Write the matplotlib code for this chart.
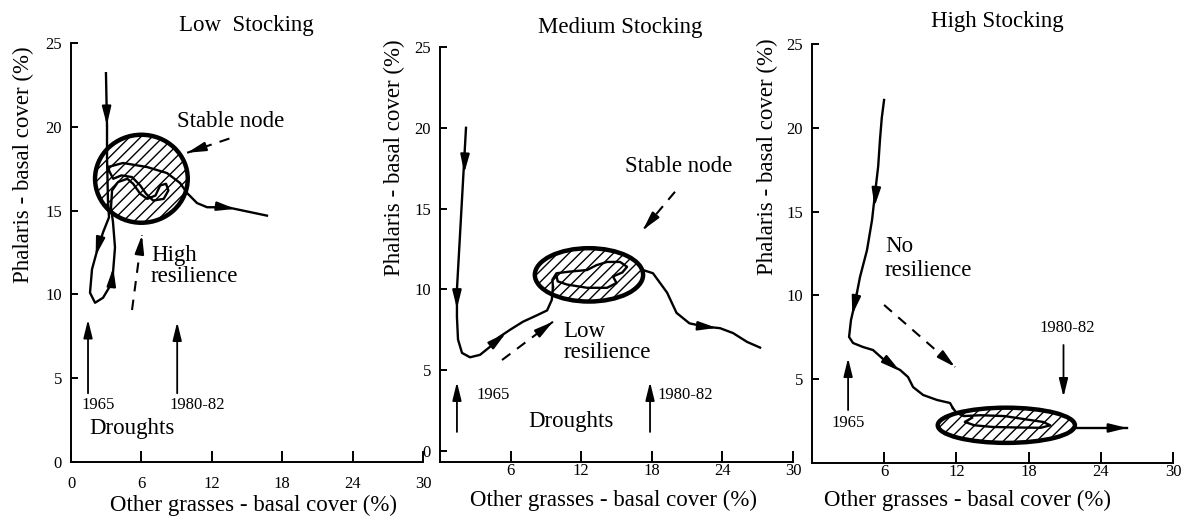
import matplotlib
matplotlib.use("Agg")
import matplotlib.pyplot as plt
from matplotlib.patches import Ellipse

plt.rcParams['font.family'] = ['Liberation Serif', 'DejaVu Serif']
plt.rcParams['hatch.linewidth'] = 1.0

# ---------------- data ----------------
titles = ["Low  Stocking", "Medium Stocking", "High Stocking"]
xlabel = "Other grasses - basal cover (%)"
ylabel = "Phalaris - basal cover (%)"
xticks_low = [0, 6, 12, 18, 24, 30]
xticks_other = [6, 12, 18, 24, 30]
yticks_low = [0, 5, 10, 15, 20, 25]
yticks_med = [0, 5, 10, 15, 20, 25]
yticks_high = [5, 10, 15, 20, 25]

# Low stocking trajectory
low_x = [2.98, 3.07, 3.07, 3.15, 3.24, 2.73, 2.22, 1.79, 1.62, 2.05, 2.73, 3.50,
         3.58, 3.75, 3.58, 3.41, 3.5, 4.0, 4.8, 5.3, 5.9, 6.5, 7.2, 7.6, 8.1, 8.3,
         7.9, 7.0, 6.4, 5.9, 5.2, 4.3, 3.6, 3.3, 3.15, 4.43, 6.48, 8.18, 9.29, 9.89,
         10.74, 11.6, 13.3, 16.7]
low_y = [23.2, 20.0, 18.2, 15.6, 14.6, 13.7, 12.6, 11.5, 10.1, 9.5, 9.8, 10.7,
         11.3, 12.8, 14.3, 15.2, 16.2, 16.7, 16.9, 16.6, 16.0, 15.7, 15.9, 16.5, 16.6, 16.2,
         15.7, 15.6, 16.0, 16.5, 17.0, 17.1, 16.9, 17.3, 17.6, 17.84, 17.6, 17.24, 16.65, 16.05,
         15.45, 15.2, 15.2, 14.7]
low_node = (6.0, 16.9, 7.9, 5.25)   # centre x, centre y, width, height
low_heads = [((3.04, 21.0), (3.06, 20.1)), ((2.4, 13.1), (2.1, 12.3)),
             ((3.5, 10.9), (3.6, 11.6)), ((13.0, 15.2), (14.0, 15.1))]
low_dashed = [((13.5, 19.3), (9.9, 18.45)), ((5.2, 9.07), (6.05, 13.54))]
low_droughts = [((1.45, 4.1), (1.45, 8.5)), ((9.05, 4.1), (9.05, 8.35))]

# Medium stocking trajectory
med_in_x = [2.21, 1.44, 1.44, 1.53, 1.87, 2.55, 3.4, 4.25, 4.93, 5.95, 7.05, 8.24, 9.1, 9.5, 9.6]
med_in_y = [20.0, 10.0, 8.3, 6.9, 6.07, 5.8, 5.95, 6.45, 7.0, 7.5, 8.0, 8.4, 8.7, 9.35, 10.15]
med_loop_x = [9.6, 9.55, 9.9, 11.0, 12.5, 13.3, 14.2, 15.3, 15.9, 15.5, 14.7, 15.0, 14.2,
              12.5, 10.8, 10.0, 9.9]
med_loop_y = [10.15, 10.6, 11.0, 11.1, 11.2, 11.5, 11.7, 11.7, 11.4, 11.05, 10.8, 10.4, 10.1,
              10.1, 10.3, 10.5, 10.85]
med_out_x = [17.25, 18.1, 19.3, 20.1, 21.2, 22.5, 23.8, 24.9, 26.1, 27.2]
med_out_y = [11.2, 11.0, 9.8, 8.55, 7.9, 7.7, 7.6, 7.3, 6.75, 6.4]
med_node = (12.66, 10.9, 9.2, 3.3)
med_heads = [((2.12, 18.3), (2.06, 17.2)), ((1.44, 10.0), (1.44, 8.8)),
             ((4.6, 6.7), (5.6, 7.3)), ((22.2, 7.72), (23.5, 7.62))]
med_dashed = [((19.97, 16.04), (17.25, 13.68)), ((5.27, 5.63), (9.6, 8.0))]
med_droughts = [((1.44, 1.18), (1.44, 4.27)), ((17.85, 1.18), (17.85, 4.27))]

# High stocking trajectory
high_in_x = [5.99, 5.8, 5.65, 5.5, 5.24, 4.99, 4.57, 3.99, 3.57, 3.24, 3.08, 3.41, 4.24,
             5.07, 5.82, 6.48, 7.32, 7.98, 8.4, 9.23, 10.39, 11.47, 11.7]
high_in_y = [21.66, 20.6, 19.3, 17.7, 16.1, 14.5, 12.7, 11.1, 9.55, 8.53, 7.52, 7.16, 6.92,
             6.74, 6.26, 5.85, 5.55, 5.13, 4.53, 4.06, 3.76, 3.58, 3.28]
high_loop_x = [11.7, 12.0, 12.6, 14.0, 16.0, 17.8, 19.2, 19.8, 19.0, 17.0, 15.0, 13.5, 12.7, 13.3]
high_loop_y = [3.28, 3.0, 2.8, 2.85, 2.8, 2.6, 2.45, 2.25, 2.1, 2.12, 2.15, 2.25, 2.45, 2.7]
high_out_x = [21.7, 26.2]
high_out_y = [2.09, 2.09]
high_node = (16.15, 2.25, 11.4, 2.1)
high_heads = [((5.35, 16.5), (5.2, 15.3)), ((3.75, 10.2), (3.35, 8.85)),
              ((6.2, 6.1), (7.3, 5.5)), ((24.4, 2.09), (26.2, 2.09))]
high_dashed = [((5.99, 9.43), (11.89, 5.73))]
high_droughts = [((3.0, 3.16), (3.0, 6.26)), ((20.9, 7.04), (20.9, 3.94))]

BIG = 16.5
SMALL = 12

# ---------------- helpers ----------------
def px(x, y):
    return x / 1189.0, 1 - y / 519.0

def head(ax, tail, tip, lw=1.5):
    ax.annotate('', xy=tip, xytext=tail,
                arrowprops=dict(arrowstyle='-|>,head_length=1.1,head_width=0.27',
                                mutation_scale=10, color='black', lw=lw,
                                shrinkA=0, shrinkB=0))

def dashed(ax, tail, tip):
    ax.plot([tail[0], tip[0]], [tail[1], tip[1]], color='black', lw=1.5,
            dashes=(5, 4), solid_capstyle='butt')
    fx = tail[0] + (tip[0] - tail[0]) * 0.85
    fy = tail[1] + (tip[1] - tail[1]) * 0.85
    head(ax, (fx, fy), tip)

def node(ax, spec):
    e = Ellipse((spec[0], spec[1]), spec[2], spec[3], facecolor='white',
                edgecolor='black', hatch='///', lw=3.2, zorder=2)
    ax.add_patch(e)

def style(ax, xt, yt, xpad, ylim):
    ax.set_xlim(0, 30)
    ax.set_ylim(*ylim)
    for s in ['top', 'right']:
        ax.spines[s].set_visible(False)
    for s in ['left', 'bottom']:
        ax.spines[s].set_linewidth(1.4)
    ax.set_xticks(xt)
    ax.set_yticks(yt)
    ax.tick_params(axis='x', direction='in', length=8, width=1.4, pad=xpad, labelsize=SMALL)
    ax.tick_params(axis='y', direction='in', length=5, width=1.4, pad=6.5, labelsize=SMALL)
    ax.patch.set_alpha(0)

def line(ax, xs, ys):
    ax.plot(xs, ys, color='black', lw=1.7, zorder=3, solid_joinstyle='round')

# ---------------- figure ----------------
fig = plt.figure(figsize=(11.89, 5.19), dpi=100)
ax1 = fig.add_axes([71 / 1189, 1 - 462 / 519, 352 / 1189, 419 / 519])
ax2 = fig.add_axes([440 / 1189, 1 - 462 / 519, 353 / 1189, 415 / 519])
ax3 = fig.add_axes([812 / 1189, 1 - 463 / 519, 361 / 1189, 419 / 519])

style(ax1, xticks_low, yticks_low, 10, (0, 25))
style(ax2, xticks_other, yticks_med, 1, (-0.68, 25))
style(ax3, xticks_other, yticks_high, 1, (0, 25))

# Low
node(ax1, low_node)
line(ax1, low_x, low_y)
for t, h in low_heads:
    head(ax1, t, h)
for t, h in low_dashed:
    dashed(ax1, t, h)
for t, h in low_droughts:
    head(ax1, t, h, lw=1.3)
ax1.text(9.04, 20.3, "Stable node", fontsize=BIG, va='center', ha='left')
ax1.text(6.82, 11.7, "High\nresilience", fontsize=BIG, va='center', ha='left', linespacing=0.95)
ax1.text(2.3, 3.4, "1965", fontsize=SMALL, va='center', ha='center')
ax1.text(10.8, 3.4, "1980-82", fontsize=SMALL, va='center', ha='center')
ax1.text(1.6, 2.0, "Droughts", fontsize=BIG, va='center', ha='left')

# Medium
node(ax2, med_node)
line(ax2, med_in_x, med_in_y)
line(ax2, med_loop_x, med_loop_y)
line(ax2, med_out_x, med_out_y)
for t, h in med_heads:
    head(ax2, t, h)
for t, h in med_dashed:
    dashed(ax2, t, h)
for t, h in med_droughts:
    head(ax2, t, h, lw=1.3)
ax2.text(20.3, 17.6, "Stable node", fontsize=BIG, va='center', ha='center')
ax2.text(10.5, 6.75, "Low\nresilience", fontsize=BIG, va='center', ha='left', linespacing=0.95)
ax2.text(3.14, 3.47, "1965", fontsize=SMALL, va='center', ha='left')
ax2.text(18.5, 3.47, "1980-82", fontsize=SMALL, va='center', ha='left')
ax2.text(11.1, 1.8, "Droughts", fontsize=BIG, va='center', ha='center')

# High
node(ax3, high_node)
line(ax3, high_in_x, high_in_y)
line(ax3, high_loop_x, high_loop_y)
line(ax3, high_out_x, high_out_y)
for t, h in high_heads:
    head(ax3, t, h)
for t, h in high_dashed:
    dashed(ax3, t, h)
for t, h in high_droughts:
    head(ax3, t, h, lw=1.3)
ax3.text(6.07, 12.2, "No\nresilience", fontsize=BIG, va='center', ha='left', linespacing=1.2)
ax3.text(3.0, 2.39, "1965", fontsize=SMALL, va='center', ha='center')
ax3.text(21.2, 8.05, "1980-82", fontsize=SMALL, va='center', ha='center')

# titles and axis labels
for t, (x, y) in zip(titles, [(246, 25), (620, 27), (997, 22)]):
    fig.text(*px(x, y), t, fontsize=BIG, ha='center', va='center')
for (x, y) in [(253, 505), (613, 500), (968, 500)]:
    fig.text(*px(x, y), xlabel, fontsize=BIG, ha='center', va='center')
for (x, y) in [(23, 165), (394, 158), (767, 157)]:
    fig.text(*px(x, y), ylabel, fontsize=BIG, ha='center', va='center', rotation=90)

fig.savefig("out.png", dpi=100)
